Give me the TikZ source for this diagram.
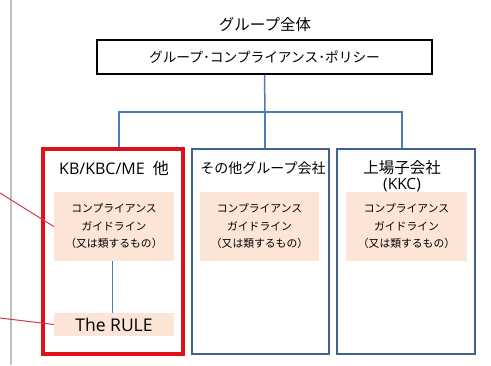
\documentclass[tikz,border=0pt]{standalone}
\usepackage{fontspec}
\setmainfont{Noto Sans CJK JP}
\newfontfamily\lat{Open Sans}
\definecolor{blueline}{HTML}{4A7EBB}
\definecolor{boxborder}{HTML}{41628F}
\definecolor{redbox}{HTML}{E0101A}
\definecolor{redthin}{HTML}{D23C4A}
\definecolor{peach}{HTML}{FCE4D6}
\definecolor{grayline}{HTML}{BFBFBF}
\begin{document}
\begin{tikzpicture}[x=1pt,y=-1pt,
  conn/.style={draw=blueline,line width=1.5pt},
  company/.style={draw=boxborder,line width=1.5pt,fill=white,minimum height=205pt,inner sep=0pt},
  guide/.style={fill=peach,minimum width=120pt,minimum height=69pt,inner sep=0pt,align=center,font=\fontsize{10.8}{17.5}\selectfont},
  heading/.style={inner sep=0pt,align=center,font=\fontsize{14}{17}\selectfont},
  pointer/.style={draw=redthin,line width=1pt}]
\useasboundingbox (0,0) rectangle (491,365);
\fill[white] (0,0) rectangle (491,365);
\draw[grayline,line width=1.5pt] (11,0) -- (11,365);
% title
\node[inner sep=0pt,font=\fontsize{15.5}{18}\selectfont] (title) at (265,25) {グループ全体};
\node[draw=black,line width=1.5pt,minimum width=335pt,minimum height=34pt,inner sep=0pt,font=\fontsize{13.7}{16}\selectfont] (policy) at (264.5,57) {グループ･コンプライアンス･ポリシー};
% company boxes
\node[company,draw=redbox,line width=3.5pt,minimum width=140pt] (kb) at (113,251.5) {};
\node[company,minimum width=137pt] (other) at (260.5,251.5) {};
\node[company,minimum width=138pt] (kkc) at (406,251.5) {};
% connectors
\coordinate (j) at (265,112);
\draw[conn] (policy.south) -- (j);
\draw[conn] (j) -| ([xshift=6pt]kb.north);
\draw[conn] (j) -- (j |- other.north);
\draw[conn] (j) -| ([xshift=-4pt]kkc.north);
% headings
\node[heading,font=\fontsize{16}{17}\selectfont] (kbh) at (114,168) {{\lat KB/KBC/ME}\hspace{8pt}他};
\node[heading] (otherh) at (263,168) {その他グループ会社};
\node[heading,font=\fontsize{15.5}{17}\selectfont] (kkch) at (402,168) {上場子会社};
\node[heading,font=\fontsize{15.5}{17}\selectfont] (kkch2) at (402,185) {\lat (KKC)};
% guideline boxes
\node[guide] (kbg) at (114,226.5) {コンプライアンス\\ガイドライン\\（又は類するもの）};
\node[guide,minimum width=119pt] (otherg) at (259.5,226.5) {コンプライアンス\\ガイドライン\\（又は類するもの）};
\node[guide,minimum width=121pt] (kkcg) at (406.5,226.5) {コンプライアンス\\ガイドライン\\（又は類するもの）};
\node[fill=peach,minimum width=120pt,minimum height=23pt,inner sep=0pt,font=\lat\fontsize{17.5}{19}\selectfont] (rule) at (114,324.5) {The RULE};
\draw[draw=blueline,line width=1pt] (kbg.south -| 112,0) -- (rule.north -| 112,0);
% pointers
\coordinate (p1) at (0,193);
\coordinate (p2) at (0,318);
\draw[pointer] (p1) -- (kbg.west);
\draw[pointer] (p2) -- (rule.west);
\end{tikzpicture}
\end{document}
